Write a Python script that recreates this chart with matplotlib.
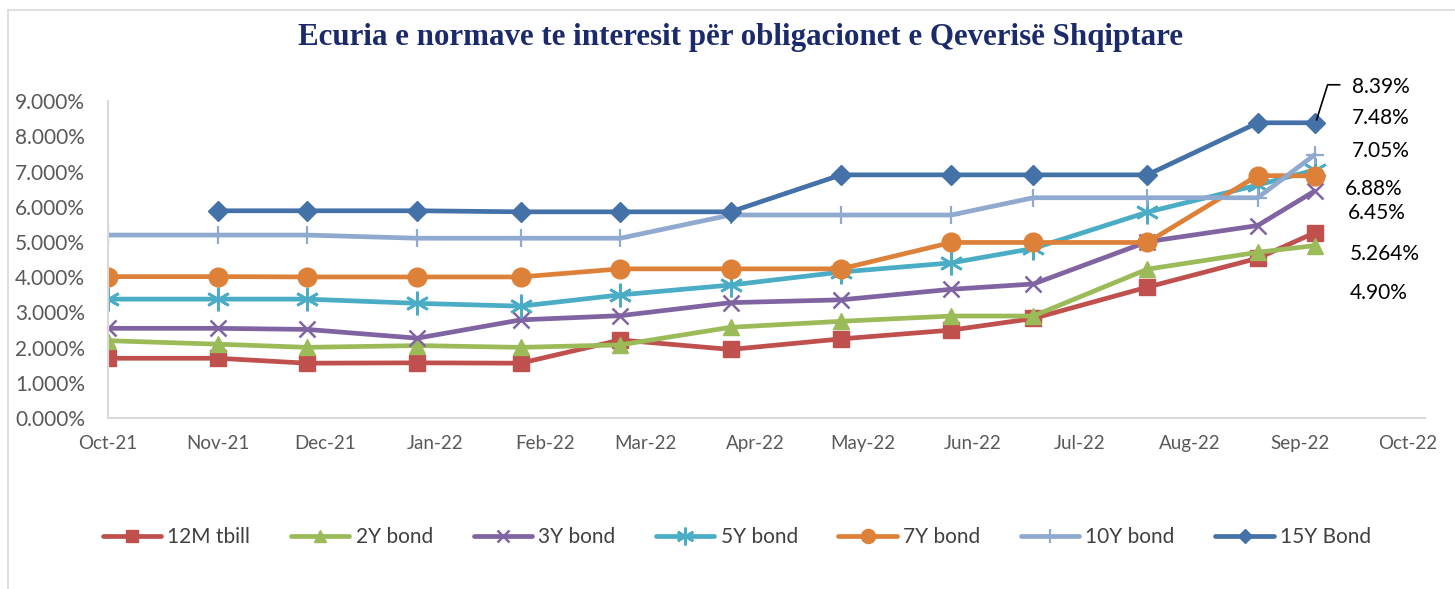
import numpy as np
import matplotlib
matplotlib.use("Agg")
import matplotlib.pyplot as plt
import matplotlib.dates as mdates
from matplotlib.ticker import FuncFormatter
from matplotlib.lines import Line2D

plt.rcParams['font.family'] = ['Lato', 'DejaVu Sans']

# ---- data ----
dates = np.array(['2021-10-01', '2021-11-01', '2021-11-26', '2021-12-27', '2022-01-25',
                  '2022-02-22', '2022-03-25', '2022-04-25', '2022-05-26', '2022-06-18',
                  '2022-07-20', '2022-08-20', '2022-09-05'], dtype='datetime64[D]')
tbill_12m = [1.70, 1.70, 1.56, 1.57, 1.56, 2.22, 1.95, 2.25, 2.50, 2.83, 3.72, 4.54, 5.264]
bond_2y = [2.20, 2.10, 2.01, 2.06, 2.01, 2.08, 2.58, 2.75, 2.90, 2.90, 4.23, 4.71, 4.90]
bond_3y = [2.55, 2.55, 2.52, 2.27, 2.79, 2.91, 3.28, 3.36, 3.66, 3.81, 5.01, 5.47, 6.45]
bond_5y = [3.38, 3.38, 3.38, 3.26, 3.18, 3.50, 3.78, 4.15, 4.41, 4.82, 5.85, 6.62, 7.05]
bond_7y = [4.02, 4.02, 4.01, 4.01, 4.01, 4.24, 4.24, 4.24, 4.99, 4.99, 4.99, 6.89, 6.88]
bond_10y = [5.20, 5.20, 5.20, 5.11, 5.11, 5.11, 5.77, 5.77, 5.77, 6.26, 6.26, 6.26, 7.48]
bond_15y = [np.nan, 5.89, 5.89, 5.89, 5.86, 5.86, 5.86, 6.91, 6.91, 6.91, 6.91, 8.39, 8.39]

series_names = ['12M tbill', '2Y bond', '3Y bond', '5Y bond', '7Y bond', '10Y bond', '15Y Bond']
series_values = [tbill_12m, bond_2y, bond_3y, bond_5y, bond_7y, bond_10y, bond_15y]
end_labels = ['5.264%', '4.90%', '6.45%', '7.05%', '6.88%', '7.48%', '8.39%']

title = 'Ecuria e normave te interesit për obligacionet e Qeverisë Shqiptare'

# ---- styles ----
colors = ['#C0504D', '#9BBB59', '#8064A2', '#4BACC6', '#DD8139', '#8FA9CF', '#4472A8']
markers = ['s', '^', 'x', (6, 2, 0), 'o', '+', 'D']
msizes = [12, 12, 11, 17, 13.5, 13, 10]
mews = [1, 1, 1.8, 1.9, 1, 1.6, 1]
label_offsets = [(70, -21), (64, -47), (62, -22), (66, 19), (59, -13), (66, 37), (66, 36)]

fig = plt.figure(figsize=(14.55, 5.89), dpi=100)
ax = fig.add_axes([107.5 / 1455, 1 - 418.1 / 589, (1425 - 107.5) / 1455, (418.1 - 101.3) / 589])

lines = []
for name, vals, c, m, ms, mew in zip(series_names, series_values, colors, markers, msizes, mews):
    ln, = ax.plot(dates, vals, color=c, lw=3.4, marker=m, markersize=ms,
                  markerfacecolor=c, markeredgecolor=c, markeredgewidth=mew,
                  label=name, solid_joinstyle='round', solid_capstyle='round')
    lines.append(ln)

ax.set_ylim(0, 9)
ax.set_xlim(np.datetime64('2021-10-01'), np.datetime64('2022-10-06'))
ax.set_yticks(np.arange(0, 9.01, 1))
ax.yaxis.set_major_formatter(FuncFormatter(lambda v, p: f'{v:.3f}%'))
ax.xaxis.set_major_locator(mdates.MonthLocator())
ax.xaxis.set_major_formatter(mdates.DateFormatter('%b-%y'))
ax.tick_params(axis='both', length=0, labelsize=13.5, colors='#595959')
ax.tick_params(axis='x', pad=12)
ax.tick_params(axis='y', pad=16)
for lab in ax.get_yticklabels():
    lab.set_fontsize(15)
for s in ['top', 'right']:
    ax.spines[s].set_visible(False)
for s in ['left', 'bottom']:
    ax.spines[s].set_color('#D9D9D9')
    ax.spines[s].set_linewidth(1.5)

# end-of-series labels
xnum = mdates.date2num(dates[-1])
for vals, txt, (dx, dy) in zip(series_values, end_labels, label_offsets):
    ax.annotate(txt, xy=(xnum, vals[-1]), xytext=(dx, dy), textcoords='offset pixels',
                ha='center', va='center', fontsize=15, color='black', annotation_clip=False)

# leader line for 15Y label
p = ax.transData.transform((xnum, bond_15y[-1]))
pts = np.array([[p[0] + 2, p[1] + 3], [p[0] + 13, p[1] + 38], [p[0] + 25, p[1] + 38]])
fpts = fig.transFigure.inverted().transform(pts)
fig.add_artist(Line2D(fpts[:, 0], fpts[:, 1], color='black', lw=1.2))

# title
fig.text(740 / 1455, 1 - 38 / 589, title, ha='center', va='center', fontsize=22.3,
         fontweight='bold', color='#1B2A6B', family='Liberation Serif')

# legend
leg = fig.legend(handles=lines, loc='center', bbox_to_anchor=(737 / 1455, 1 - 537 / 589),
                 ncol=7, frameon=False, fontsize=15, handlelength=2.8, handletextpad=0.3,
                 columnspacing=1.95, markerscale=0.75)
for t in leg.get_texts():
    t.set_color('#404040')

# chart border
fig.add_artist(Line2D([8 / 1455, 8 / 1455], [0, 1 - 10 / 589], color='#D9D9D9', lw=1.2))
fig.add_artist(Line2D([8 / 1455, 1], [1 - 10 / 589, 1 - 10 / 589], color='#D9D9D9', lw=1.2))

fig.savefig('out.png', dpi=100)
